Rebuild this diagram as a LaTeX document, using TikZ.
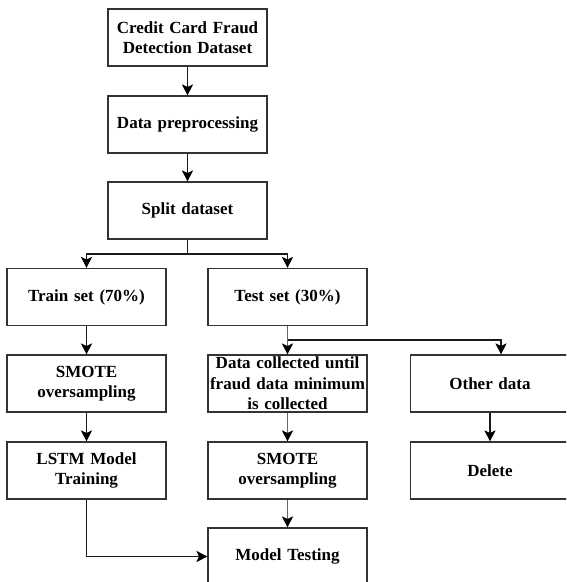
\documentclass[tikz,border=0pt]{standalone}
\usepackage{fontspec}
\setmainfont{Liberation Serif}
\usetikzlibrary{arrows.meta}

\tikzset{
  box/.style={draw=black!80, line width=1.1pt, fill=white, minimum width=159pt,
    minimum height=57pt, inner sep=1pt, align=center, text width=157pt,
    font=\fontsize{17}{20.5}\selectfont\bfseries},
  link/.style={line width=1.3pt, draw=black!90},
  glink/.style={line width=1.3pt, draw=black!60},
  arr/.style={-{Stealth[length=11pt,width=11pt,inset=2.5pt,color=black]}},
}

\begin{document}
\begin{tikzpicture}[x=1pt,y=-1pt]
  \useasboundingbox (0,0) rectangle (566,582);
  \clip (0,0) rectangle (566,582);
  \fill[white] (0,0) rectangle (566,582);

  % main column
  \node[box] (data)  at (187.5,37.5)  {Credit Card Fraud\\Detection Dataset};
  \node[box] (prep)  at (187.5,124.5) {Data preprocessing};
  \node[box] (split) at (187.5,210.5) {Split dataset};

  % train / test
  \node[box] (train) at (86.5,297)  {Train set (70\%)};
  \node[box] (test)  at (287.5,297) {Test set (30\%)};

  % train branch
  \node[box] (smoteA) at (86.5,383.5) {SMOTE\\oversampling};
  \node[box] (lstm)   at (86.5,470.5) {LSTM Model\\Training};

  % test branch
  \node[box] (coll)   at (287.5,383.5) {Data collected until\\fraud data minimum\\is collected};
  \node[box] (smoteB) at (287.5,470.5) {SMOTE\\oversampling};
  \node[box] (mtest)  at (287.5,556.5) {Model Testing};

  \node[box] (other)  at (490,383.5) {Other data};
  \node[box] (del)    at (490,470.5) {Delete};

  % junction points
  \coordinate (sj) at (187.5,254);
  \coordinate (tj) at (287.5,340);
  \coordinate (oin) at ([xshift=11pt]other.north);

  % connectors
  \draw[link,arr] (data) -- (prep);
  \draw[link,arr] (prep) -- (split);
  \draw[link] (split.south) -- (sj);
  \draw[link,arr] (sj) -| (train.north);
  \draw[link,arr] (sj) -| (test.north);

  \draw[link,arr] (train) -- (smoteA);
  \draw[link,arr] (smoteA) -- (lstm);
  \draw[link,arr] (lstm.south) |- (mtest.west);

  \draw[glink] (test.south) -- (tj);
  \draw[glink,arr] (tj) -- (coll.north);
  \draw[link,arr] (tj) -| (oin);
  \draw[glink,arr] (coll) -- (smoteB);
  \draw[glink,arr] (smoteB) -- (mtest);
  \draw[link,arr] (other) -- (del);
\end{tikzpicture}
\end{document}
